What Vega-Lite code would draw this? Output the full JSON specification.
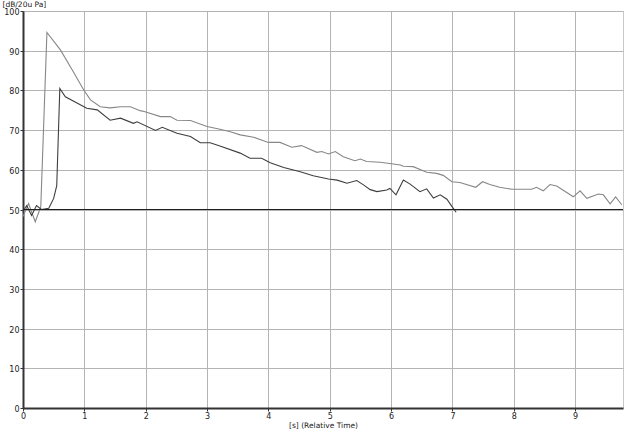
{
  "$schema": "https://vega.github.io/schema/vega-lite/v6.json",
  "width": 600,
  "height": 397,
  "autosize": "none",
  "padding": {"left": 23, "top": 11, "right": 20, "bottom": 25},
  "background": "white",
  "config": {
    "view": {"stroke": "#c8c8c8", "strokeWidth": 1},
    "font": "DejaVu Sans",
    "axis": {
      "labelFont": "DejaVu Sans",
      "titleFont": "DejaVu Sans",
      "labelFontSize": 8,
      "titleFontSize": 7.5,
      "titleFontWeight": "normal",
      "labelColor": "#222222",
      "titleColor": "#222222",
      "gridColor": "#b4b4b4",
      "gridWidth": 1,
      "domainColor": "#333333",
      "domainWidth": 2,
      "tickColor": "#333333",
      "tickSize": 3,
      "labelPadding": 1,
      "labelOverlap": false,
      "labelBound": false,
      "labelFlush": false
    }
  },
  "data": {"values": [
    {"series": "A", "t": 0.00, "v": 48.2},
    {"series": "A", "t": 0.09, "v": 51.5},
    {"series": "A", "t": 0.20, "v": 46.9},
    {"series": "A", "t": 0.29, "v": 50.7},
    {"series": "A", "t": 0.39, "v": 94.6},
    {"series": "A", "t": 0.61, "v": 90.2},
    {"series": "A", "t": 0.82, "v": 84.7},
    {"series": "A", "t": 0.99, "v": 80.1},
    {"series": "A", "t": 1.10, "v": 77.6},
    {"series": "A", "t": 1.26, "v": 75.9},
    {"series": "A", "t": 1.42, "v": 75.6},
    {"series": "A", "t": 1.59, "v": 75.9},
    {"series": "A", "t": 1.75, "v": 75.9},
    {"series": "A", "t": 1.91, "v": 74.9},
    {"series": "A", "t": 1.99, "v": 74.6},
    {"series": "A", "t": 2.24, "v": 73.4},
    {"series": "A", "t": 2.40, "v": 73.4},
    {"series": "A", "t": 2.51, "v": 72.5},
    {"series": "A", "t": 2.73, "v": 72.4},
    {"series": "A", "t": 3.00, "v": 70.9},
    {"series": "A", "t": 3.21, "v": 70.2},
    {"series": "A", "t": 3.38, "v": 69.6},
    {"series": "A", "t": 3.54, "v": 68.8},
    {"series": "A", "t": 3.76, "v": 68.2},
    {"series": "A", "t": 4.00, "v": 66.9},
    {"series": "A", "t": 4.19, "v": 66.9},
    {"series": "A", "t": 4.38, "v": 65.7},
    {"series": "A", "t": 4.54, "v": 66.1},
    {"series": "A", "t": 4.79, "v": 64.4},
    {"series": "A", "t": 4.87, "v": 64.6},
    {"series": "A", "t": 4.98, "v": 64.0},
    {"series": "A", "t": 5.09, "v": 64.6},
    {"series": "A", "t": 5.22, "v": 63.3},
    {"series": "A", "t": 5.41, "v": 62.3},
    {"series": "A", "t": 5.50, "v": 62.7},
    {"series": "A", "t": 5.60, "v": 62.1},
    {"series": "A", "t": 5.82, "v": 61.9},
    {"series": "A", "t": 5.98, "v": 61.6},
    {"series": "A", "t": 6.15, "v": 61.2},
    {"series": "A", "t": 6.20, "v": 60.9},
    {"series": "A", "t": 6.36, "v": 60.8},
    {"series": "A", "t": 6.58, "v": 59.4},
    {"series": "A", "t": 6.74, "v": 59.1},
    {"series": "A", "t": 6.85, "v": 58.6},
    {"series": "A", "t": 6.99, "v": 57.0},
    {"series": "A", "t": 7.12, "v": 56.8},
    {"series": "A", "t": 7.38, "v": 55.6},
    {"series": "A", "t": 7.49, "v": 57.0},
    {"series": "A", "t": 7.61, "v": 56.3},
    {"series": "A", "t": 7.77, "v": 55.6},
    {"series": "A", "t": 7.97, "v": 55.1},
    {"series": "A", "t": 8.29, "v": 55.1},
    {"series": "A", "t": 8.37, "v": 55.6},
    {"series": "A", "t": 8.48, "v": 54.7},
    {"series": "A", "t": 8.59, "v": 56.3},
    {"series": "A", "t": 8.70, "v": 55.9},
    {"series": "A", "t": 8.97, "v": 53.2},
    {"series": "A", "t": 9.08, "v": 54.7},
    {"series": "A", "t": 9.19, "v": 52.8},
    {"series": "A", "t": 9.38, "v": 53.9},
    {"series": "A", "t": 9.46, "v": 53.7},
    {"series": "A", "t": 9.57, "v": 51.4},
    {"series": "A", "t": 9.66, "v": 53.2},
    {"series": "A", "t": 9.76, "v": 51.2},
    {"series": "B", "t": 0.00, "v": 49.5},
    {"series": "B", "t": 0.06, "v": 51.0},
    {"series": "B", "t": 0.14, "v": 48.5},
    {"series": "B", "t": 0.22, "v": 51.0},
    {"series": "B", "t": 0.30, "v": 50.0},
    {"series": "B", "t": 0.42, "v": 50.3},
    {"series": "B", "t": 0.50, "v": 52.8},
    {"series": "B", "t": 0.55, "v": 56.0},
    {"series": "B", "t": 0.60, "v": 80.5},
    {"series": "B", "t": 0.69, "v": 78.4},
    {"series": "B", "t": 1.04, "v": 75.5},
    {"series": "B", "t": 1.21, "v": 75.1},
    {"series": "B", "t": 1.42, "v": 72.5},
    {"series": "B", "t": 1.59, "v": 73.0},
    {"series": "B", "t": 1.80, "v": 71.7},
    {"series": "B", "t": 1.86, "v": 72.1},
    {"series": "B", "t": 2.16, "v": 69.9},
    {"series": "B", "t": 2.27, "v": 70.7},
    {"series": "B", "t": 2.51, "v": 69.2},
    {"series": "B", "t": 2.73, "v": 68.4},
    {"series": "B", "t": 2.89, "v": 66.8},
    {"series": "B", "t": 3.05, "v": 66.8},
    {"series": "B", "t": 3.21, "v": 66.0},
    {"series": "B", "t": 3.54, "v": 64.2},
    {"series": "B", "t": 3.70, "v": 62.9},
    {"series": "B", "t": 3.89, "v": 62.9},
    {"series": "B", "t": 4.03, "v": 61.8},
    {"series": "B", "t": 4.25, "v": 60.6},
    {"series": "B", "t": 4.52, "v": 59.5},
    {"series": "B", "t": 4.73, "v": 58.5},
    {"series": "B", "t": 4.98, "v": 57.7},
    {"series": "B", "t": 5.12, "v": 57.4},
    {"series": "B", "t": 5.28, "v": 56.6},
    {"series": "B", "t": 5.44, "v": 57.3},
    {"series": "B", "t": 5.55, "v": 56.2},
    {"series": "B", "t": 5.66, "v": 55.0},
    {"series": "B", "t": 5.77, "v": 54.5},
    {"series": "B", "t": 5.93, "v": 54.9},
    {"series": "B", "t": 5.98, "v": 55.3},
    {"series": "B", "t": 6.08, "v": 53.7},
    {"series": "B", "t": 6.20, "v": 57.4},
    {"series": "B", "t": 6.31, "v": 56.4},
    {"series": "B", "t": 6.47, "v": 54.5},
    {"series": "B", "t": 6.58, "v": 55.2},
    {"series": "B", "t": 6.69, "v": 52.9},
    {"series": "B", "t": 6.80, "v": 53.7},
    {"series": "B", "t": 6.91, "v": 52.6},
    {"series": "B", "t": 6.99, "v": 50.8},
    {"series": "B", "t": 7.06, "v": 49.3},
    {"series": "ref", "t": 0.00, "v": 50},
    {"series": "ref", "t": 9.78, "v": 50}
  ]},
  "mark": {"type": "line", "interpolate": "linear"},
  "encoding": {
    "x": {
      "field": "t", "type": "quantitative",
      "scale": {"domain": [0, 9.78], "nice": false, "zero": false},
      "axis": {"values": [0,1,2,3,4,5,6,7,8,9], "title": "[s] (Relative Time)", "titlePadding": 1, "format": "d"}
    },
    "y": {
      "field": "v", "type": "quantitative",
      "scale": {"domain": [0, 100], "nice": false},
      "axis": {
        "values": [0,10,20,30,40,50,60,70,80,90,100],
        "labelOverlap": false,
        "format": "d",
        "labelOffset": 1.5,
        "title": "[dB/20u Pa]",
        "titleAngle": 0,
        "titleAlign": "left",
        "titleBaseline": "bottom",
        "titleX": -21,
        "titleY": -3
      }
    },
    "color": {
      "field": "series", "type": "nominal",
      "scale": {"domain": ["A", "B", "ref"], "range": ["#878787", "#3e3e3e", "#1e1e1e"]},
      "legend": null
    },
    "strokeWidth": {
      "field": "series", "type": "nominal",
      "scale": {"domain": ["A", "B", "ref"], "range": [1.1, 1.1, 2]},
      "legend": null
    }
  }
}
